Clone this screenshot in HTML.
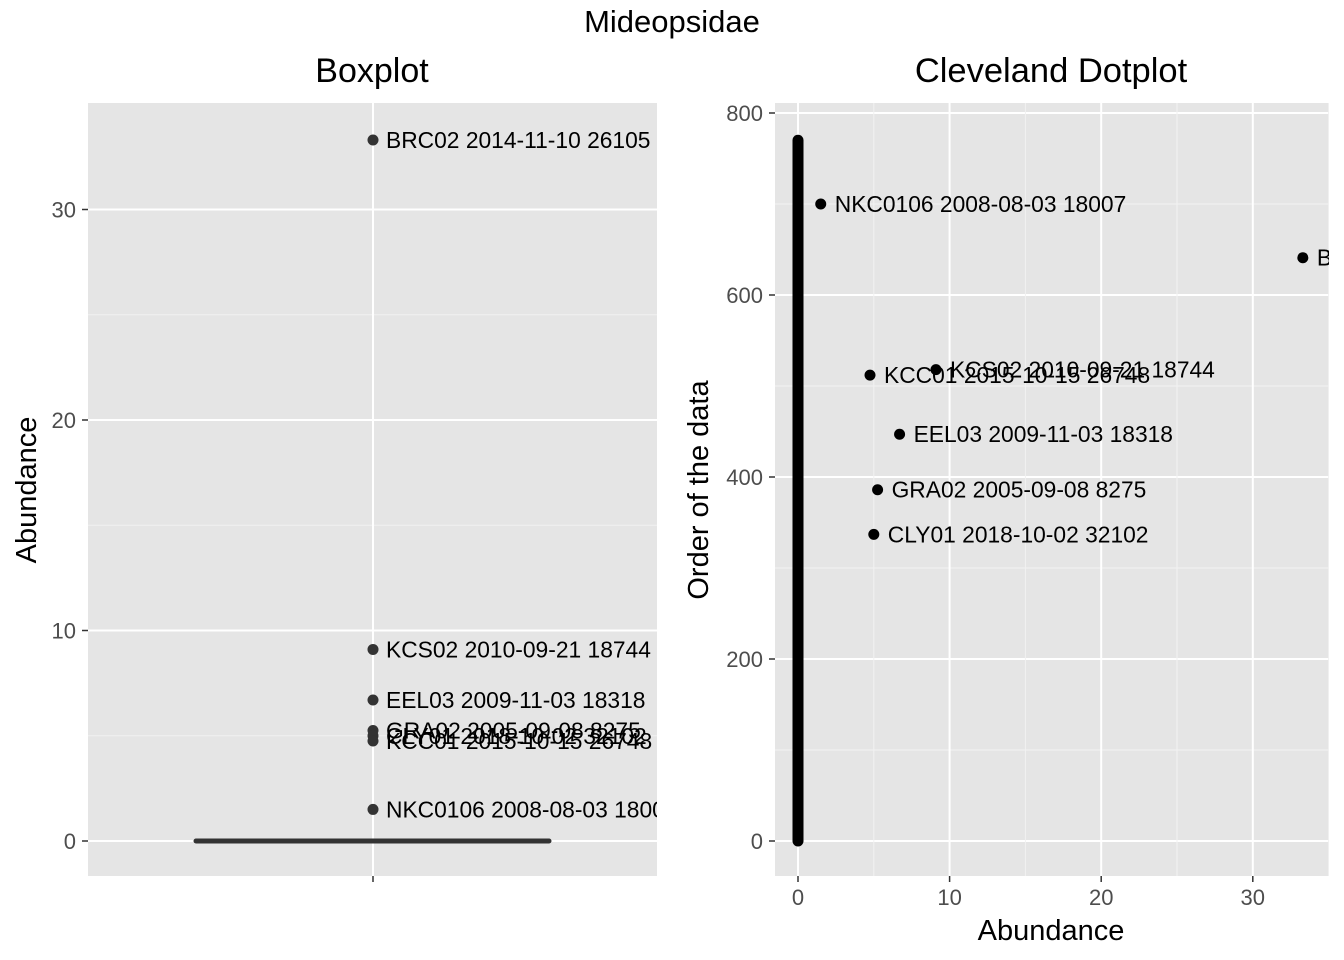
<!DOCTYPE html>
<html><head><meta charset="utf-8"><style>
body{margin:0;background:#fff;}
svg{font-family:"Liberation Sans",Arial,sans-serif;display:block;}
</style></head><body>
<svg id="chart" width="1344" height="960" viewBox="0 0 1344 960" xmlns="http://www.w3.org/2000/svg">
<defs>
<clipPath id="clipL"><rect x="88" y="103" width="569" height="773"/></clipPath>
<clipPath id="clipR"><rect x="775" y="103" width="554" height="773"/></clipPath>
</defs>
<text x="672" y="32" font-size="31" text-anchor="middle">Mideopsidae</text>
<text x="372" y="82" font-size="34" text-anchor="middle">Boxplot</text>
<text x="1051" y="82" font-size="34.5" text-anchor="middle">Cleveland Dotplot</text>
<rect x="88" y="103" width="569" height="773" fill="#e5e5e5"/>
<rect x="775" y="103" width="554" height="773" fill="#e5e5e5"/>
<g id="gL"></g>
<g id="gLc" clip-path="url(#clipL)"></g>
<g id="gR"></g>
<g id="gRc" clip-path="url(#clipR)"></g>
<text transform="translate(36,490) rotate(-90)" font-size="29" text-anchor="middle">Abundance</text>
<text transform="translate(708,490) rotate(-90)" font-size="29" text-anchor="middle">Order of the data</text>
<text x="1051" y="940" font-size="29" text-anchor="middle">Abundance</text>
</svg>
<script>
const labels=["BRC02 2014-11-10 26105","KCS02 2010-09-21 18744","EEL03 2009-11-03 18318","GRA02 2005-09-08 8275","CLY01 2018-10-02 32102","KCC01 2015-10-15 26748","NKC0106 2008-08-03 18007"];
const abundance=[33.3,9.1,6.7,5.25,5.0,4.75,1.5];
const order=[641,518,447,386,337,512,700];
const nObs=770;
const leftTicks=[0,10,20,30];
const rightXTicks=[0,10,20,30];
const rightYTicks=[0,200,400,600,800];
const NS="http://www.w3.org/2000/svg";
function mk(tag,attrs,parent,txt){const e=document.createElementNS(NS,tag);for(const k in attrs)e.setAttribute(k,attrs[k]);if(txt!==undefined)e.textContent=txt;parent.appendChild(e);return e;}
const yL=v=>841-v*21.05;
const xR=v=>798+v*15.16;
const yR=v=>841-v*0.91;
const gL=document.getElementById('gL'),gLc=document.getElementById('gLc'),gR=document.getElementById('gR'),gRc=document.getElementById('gRc');
for(const t of [5,15,25]){const l=mk('line',{x1:88,x2:657,y1:yL(t),y2:yL(t),stroke:'#f2f2f2','stroke-width':1},gL);

}
for(const t of leftTicks){const l=mk('line',{x1:88,x2:657,y1:yL(t),y2:yL(t),stroke:'#fff','stroke-width':2},gL);


const tk=mk('line',{x1:82,x2:88,y1:yL(t),y2:yL(t),stroke:'#333','stroke-width':1.5},gL);


const tx=mk('text',{x:76,y:yL(t)+8,'font-size':22,'text-anchor':'end',fill:'#4d4d4d'},gL,String(t));

}
const vg=mk('line',{x1:373,x2:373,y1:103,y2:876,stroke:'#fff','stroke-width':2},gL);


const xt=mk('line',{x1:373,x2:373,y1:876,y2:882,stroke:'#333','stroke-width':1.5},gL);


const box=mk('line',{x1:196,x2:549,y1:yL(0),y2:yL(0),stroke:'#333','stroke-width':5,'stroke-linecap':'round'},gLc);


abundance.forEach((v,i)=>{const c=mk('circle',{cx:373,cy:yL(v),r:5.5,fill:'#333'},gLc);


const t=mk('text',{x:386,y:yL(v)+8,'font-size':22.8,fill:'#000'},gLc,labels[i]);

});
for(const t of [5,15,25,35]){const l=mk('line',{x1:xR(t),x2:xR(t),y1:103,y2:876,stroke:'#f2f2f2','stroke-width':1},gRc);

}
for(const t of [100,300,500,700]){const l=mk('line',{x1:775,x2:1329,y1:yR(t),y2:yR(t),stroke:'#f2f2f2','stroke-width':1},gR);

}
for(const t of rightXTicks){const l=mk('line',{x1:xR(t),x2:xR(t),y1:103,y2:876,stroke:'#fff','stroke-width':2},gR);


const tk=mk('line',{x1:xR(t),x2:xR(t),y1:876,y2:882,stroke:'#333','stroke-width':1.5},gR);


const tx=mk('text',{x:xR(t),y:905,'font-size':22,'text-anchor':'middle',fill:'#4d4d4d'},gR,String(t));

}
for(const t of rightYTicks){const l=mk('line',{x1:775,x2:1329,y1:yR(t),y2:yR(t),stroke:'#fff','stroke-width':2},gR);


const tk=mk('line',{x1:769,x2:775,y1:yR(t),y2:yR(t),stroke:'#333','stroke-width':1.5},gR);


const tx=mk('text',{x:763,y:yR(t)+8,'font-size':22,'text-anchor':'end',fill:'#4d4d4d'},gR,String(t));

}
const zl=mk('line',{x1:xR(0),x2:xR(0),y1:yR(0),y2:yR(nObs),stroke:'#000','stroke-width':11,'stroke-linecap':'round'},gRc);


abundance.forEach((v,i)=>{const c=mk('circle',{cx:xR(v),cy:yR(order[i]),r:5.5,fill:'#000'},gRc);


const t=mk('text',{x:xR(v)+14,y:yR(order[i])+8,'font-size':22.8,fill:'#000'},gRc,labels[i]);

});
</script>
</body></html>
